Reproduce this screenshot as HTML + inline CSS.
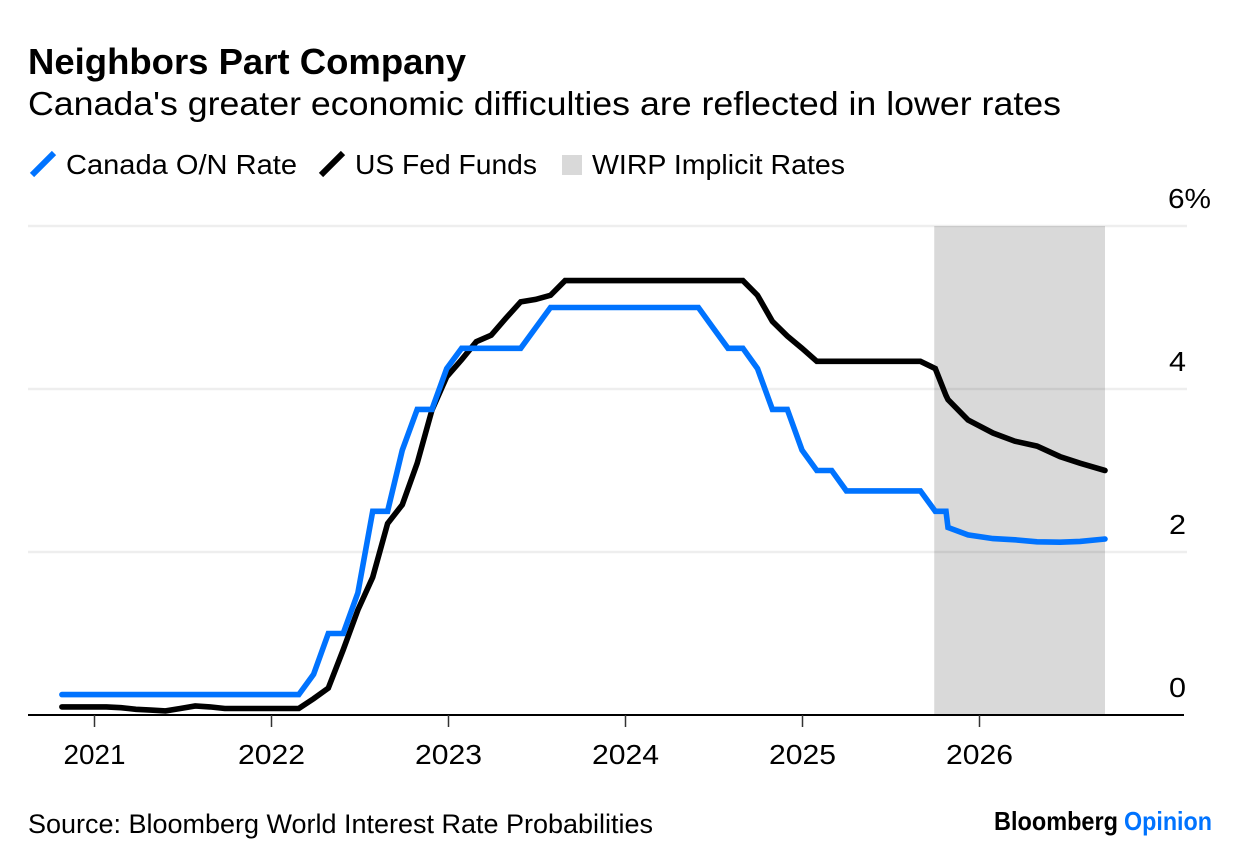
<!DOCTYPE html>
<html lang="en">
<head>
<meta charset="utf-8">
<title>Neighbors Part Company</title>
<style>
html,body{margin:0;padding:0;background:#fff;width:1240px;height:866px;overflow:hidden}
svg{display:block}
text{font-family:"Liberation Sans",sans-serif;fill:#000}
</style>
</head>
<body>
<svg id="chart" xmlns="http://www.w3.org/2000/svg" width="1240" height="866" viewBox="0 0 1240 866">
  <rect width="1240" height="866" fill="#fff"/>
  <text x="28" y="74" font-size="36" font-weight="700" textLength="438" lengthAdjust="spacingAndGlyphs">Neighbors Part Company</text>
  <text x="28" y="115" font-size="33" textLength="1033" lengthAdjust="spacingAndGlyphs">Canada's greater economic difficulties are reflected in lower rates</text>

  <g>
    <line x1="32" y1="175" x2="54" y2="153" stroke="#0073ff" stroke-width="6"/>
    <text x="66" y="174" font-size="28" textLength="231" lengthAdjust="spacingAndGlyphs">Canada O/N Rate</text>
    <line x1="321" y1="175" x2="343" y2="153" stroke="#000" stroke-width="6"/>
    <text x="355" y="174" font-size="28" textLength="182" lengthAdjust="spacingAndGlyphs">US Fed Funds</text>
    <rect x="562" y="155" width="20" height="20" fill="#d9d9d9"/>
    <text x="592" y="174" font-size="28" textLength="253" lengthAdjust="spacingAndGlyphs">WIRP Implicit Rates</text>
  </g>

  <g id="plot"></g>

  <text x="28" y="833" font-size="27" textLength="625" lengthAdjust="spacingAndGlyphs">Source: Bloomberg World Interest Rate Probabilities</text>
  <text x="994" y="830" font-size="26" font-weight="700" textLength="124" lengthAdjust="spacingAndGlyphs">Bloomberg</text>
  <text x="1124" y="830" font-size="26" font-weight="700" style="fill:#0073ff" textLength="88" lengthAdjust="spacingAndGlyphs">Opinion</text>
</svg>
<script>
var dates = [
  2020.816,2020.900,2020.983,2021.067,2021.150,2021.234,2021.318,2021.401,2021.485,2021.569,
  2021.652,2021.736,2021.819,2021.903,2021.987,2022.070,2022.154,2022.238,2022.321,2022.405,
  2022.488,2022.572,2022.656,2022.739,2022.823,2022.906,2022.990,2023.074,2023.157,2023.241,
  2023.325,2023.408,2023.492,2023.576,2023.659,2023.743,2023.826,2023.910,2023.994,2024.077,
  2024.161,2024.245,2024.328,2024.412,2024.495,2024.579,2024.663,2024.746,2024.830,2024.914,
  2024.997,2025.081,2025.165,2025.248,2025.332,2025.415,2025.499,2025.583,2025.666,2025.750,
  2025.811,2025.822,2025.935,2026.076,2026.200,2026.325,2026.455,2026.568,2026.709
];
var canadaRate = [
  0.25,0.25,0.25,0.25,0.25,0.25,0.25,0.25,0.25,0.25,
  0.25,0.25,0.25,0.25,0.25,0.25,0.25,0.5,1,1,
  1.5,2.5,2.5,3.25,3.75,3.75,4.25,4.5,4.5,4.5,
  4.5,4.5,4.75,5,5,5,5,5,5,5,
  5,5,5,5,4.75,4.5,4.5,4.25,3.75,3.75,
  3.25,3,3,2.75,2.75,2.75,2.75,2.75,2.75,2.5,
  2.5,2.3,2.21,2.165,2.15,2.125,2.12,2.13,2.16
];
var usFedFunds = [
  0.1,0.1,0.1,0.1,0.09,0.07,0.06,0.05,0.08,0.11,
  0.1,0.08,0.08,0.08,0.08,0.08,0.08,0.2,0.33,0.8,
  1.29,1.69,2.35,2.58,3.09,3.74,4.15,4.36,4.58,4.66,
  4.87,5.07,5.1,5.15,5.33,5.33,5.33,5.33,5.33,5.33,
  5.33,5.33,5.33,5.33,5.33,5.33,5.33,5.15,4.83,4.65,
  4.5,4.34,4.34,4.34,4.34,4.34,4.34,4.34,4.34,4.25,
  3.92,3.87,3.62,3.46,3.36,3.3,3.17,3.09,3
];
var yTickValues = [0, 2, 4, 6];
var yTickLabels = ['0', '2', '4', '6%'];
var xTickYears = [2021, 2022, 2023, 2024, 2025, 2026];
var wirpRange = [2025.75, 2026.709];

var NS = 'http://www.w3.org/2000/svg';
var plot = document.getElementById('plot');
function xScale(year) { return 94.5 + (year - 2021) * 177; }
function yScale(value) { return 715 - value * 81.5; }
function make(tag) {
  var el = document.createElementNS(NS, tag);
  plot.appendChild(el);
  return el;
}

var shade = make('rect');


shade.setAttribute('x', xScale(wirpRange[0]) - 1);
shade.setAttribute('y', yScale(6));
shade.setAttribute('width', xScale(wirpRange[1]) - xScale(wirpRange[0]) + 1);
shade.setAttribute('height', yScale(0) - yScale(6));
shade.setAttribute('fill', '#d9d9d9');

yTickValues.forEach(function (v, i) {
  if (v !== 0) {
    var g = make('line');
    
    
    g.setAttribute('x1', 28);
    g.setAttribute('x2', 1187);
    g.setAttribute('y1', yScale(v));
    g.setAttribute('y2', yScale(v));
    g.setAttribute('stroke', 'rgba(0,0,0,0.065)');
    g.setAttribute('stroke-width', 2.5);
  }
  var t = make('text');
  
  
  t.setAttribute('x', v === 6 ? 1168 : 1169);
  t.setAttribute('y', yScale(v) - 18);
  t.setAttribute('font-size', '28');
  t.setAttribute('textLength', v === 6 ? 43 : 17);
  t.setAttribute('lengthAdjust', 'spacingAndGlyphs');
  t.textContent = yTickLabels[i];
});

var axis = make('line');


axis.setAttribute('x1', 28);
axis.setAttribute('x2', 1184);
axis.setAttribute('y1', 715);
axis.setAttribute('y2', 715);
axis.setAttribute('stroke', '#000');
axis.setAttribute('stroke-width', 2);

xTickYears.forEach(function (yr) {
  var tick = make('line');
  
  
  tick.setAttribute('x1', xScale(yr));
  tick.setAttribute('x2', xScale(yr));
  tick.setAttribute('y1', 715);
  tick.setAttribute('y2', 727);
  tick.setAttribute('stroke', '#333');
  tick.setAttribute('stroke-width', 1.5);
  var label = make('text');
  
  
  label.setAttribute('x', xScale(yr));
  label.setAttribute('y', 764);
  label.setAttribute('text-anchor', 'middle');
  label.setAttribute('font-size', '28');
  label.setAttribute('textLength', yr === 2021 ? 62 : 67);
  label.setAttribute('lengthAdjust', 'spacingAndGlyphs');
  label.textContent = String(yr);
});

function pathFor(values) {
  return values.map(function (v, i) {
    return (i ? 'L' : 'M') + xScale(dates[i]).toFixed(1) + ' ' + yScale(v).toFixed(1);
  }).join(' ');
}

var usLine = make('path');


usLine.setAttribute('d', pathFor(usFedFunds));
usLine.setAttribute('fill', 'none');
usLine.setAttribute('stroke', '#000');
usLine.setAttribute('stroke-width', 5.6);
usLine.setAttribute('stroke-linecap', 'round');
usLine.setAttribute('stroke-linejoin', 'miter');

var caLine = make('path');


caLine.setAttribute('d', pathFor(canadaRate));
caLine.setAttribute('fill', 'none');
caLine.setAttribute('stroke', '#0073ff');
caLine.setAttribute('stroke-width', 5.6);
caLine.setAttribute('stroke-linecap', 'round');
caLine.setAttribute('stroke-linejoin', 'miter');
</script>
</body>
</html>
